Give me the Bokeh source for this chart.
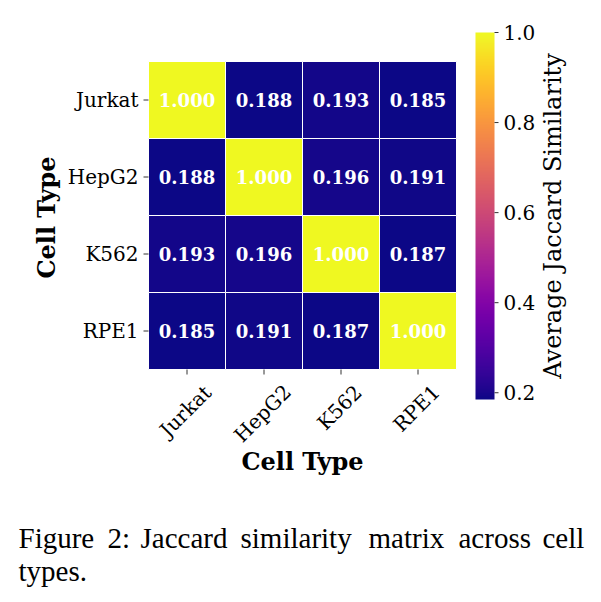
import numpy as np
from bokeh.plotting import figure
from bokeh.models import ColumnDataSource, LinearColorMapper, Range1d
from bokeh.palettes import Plasma256
from bokeh.transform import transform
from bokeh.embed import file_html
from bokeh.resources import INLINE
from bokeh.core.properties import value

# ---- data -------------------------------------------------------------
cell_types = ["Jurkat", "HepG2", "K562", "RPE1"]
jaccard = [
    [1.000, 0.188, 0.193, 0.185],
    [0.188, 1.000, 0.196, 0.191],
    [0.193, 0.196, 1.000, 0.187],
    [0.185, 0.191, 0.187, 1.000],
]
cbar_ticks = [0.2, 0.4, 0.6, 0.8, 1.0]
x_title = "Cell Type"
y_title = "Cell Type"
cbar_title = "Average Jaccard Similarity"
caption_line1 = ["Figure", "2:", "Jaccard", "similarity", "matrix", "across", "cell"]
caption_line2 = ["types."]

SERIF = "DejaVu Serif"
CAPTION_FONT = "Liberation Serif"
TICK_COLOR = "#333333"
W, H = 601, 602

# ---- geometry: one cell = CELL pixels, heatmap top-left at (LEFT, TOP) ------
n = len(cell_types)
CELL = 77.0
LEFT, TOP = 148.0, 61.0


def px(x):
    """canvas x pixel -> cell units"""
    return (x - LEFT) / CELL


def py(y):
    """canvas y pixel -> cell units (downwards)"""
    return (y - TOP) / CELL


vals = np.array(jaccard)
vmin, vmax = float(vals.min()), float(vals.max())
mapper = LinearColorMapper(palette=Plasma256, low=vmin, high=vmax)

# colour-bar value scale: vmax at y=32 px, vmin at y=399 px
CB_TOP, CB_BOT, CB_L, CB_R = 32.0, 399.0, 475.0, 494.0
k = (CB_BOT - CB_TOP) / (vmax - vmin)

p = figure(width=W, height=H,
           x_range=Range1d(px(0), px(W)),
           y_range=Range1d(py(H), py(0)),          # rows run downwards
           output_backend="svg", toolbar_location=None,
           x_axis_location=None, y_axis_location=None, min_border=0)
p.extra_y_ranges = {"cbar": Range1d(vmin - (H - CB_BOT) / k, vmax + CB_TOP / k)}
p.grid.visible = False
p.outline_line_color = None
p.background_fill_color = "white"
p.border_fill_color = "white"

# ---- heatmap cells ----------------------------------------------------------
rows, cols, v, lab = [], [], [], []
for i in range(n):
    for j in range(n):
        rows.append(i + 0.5)
        cols.append(j + 0.5)
        v.append(jaccard[i][j])
        lab.append(f"{jaccard[i][j]:.3f}")
src = ColumnDataSource(dict(row=rows, col=cols, val=v, label=lab))
p.rect(x="col", y="row", width=1, height=1, source=src,
       fill_color=transform("val", mapper), line_color="white", line_width=1)
p.text(x="col", y="row", text="label", source=src,
       text_align="center", text_baseline="middle", text_color="white",
       text_font=value(SERIF), text_font_style="bold", text_font_size="18px")

centers = [i + 0.5 for i in range(n)]

# ---- y axis: ticks, labels, title -------------------------------------------
p.segment(x0=px(LEFT - 5), x1=0, y0=centers, y1=centers,
          line_color=TICK_COLOR, line_width=1)
p.text(x=px(LEFT - 10), y=centers, text=cell_types,
       text_align="right", text_baseline="middle", text_color="black",
       text_font=value(SERIF), text_font_size="20px")
p.text(x=[px(46)], y=[py(217)], text=[y_title], angle=np.pi / 2,
       text_align="center", text_baseline="middle", text_color="black",
       text_font=value(SERIF), text_font_style="bold", text_font_size="24px")

# ---- x axis: ticks, rotated labels, title -----------------------------------
p.segment(x0=centers, x1=centers, y0=n, y1=py(TOP + n * CELL + 5),
          line_color=TICK_COLOR, line_width=1)

# rough DejaVu Serif advance widths (em) to centre each rotated label
char_w = {"J": .472, "u": .644, "r": .478, "k": .60, "a": .596, "t": .402,
          "H": .872, "e": .592, "p": .640, "G": .775, "K": .773, "R": .734,
          "P": .683, "E": .734}
fs = 20.0
label_top = TOP + n * CELL + 12
xl_y = []
for name in cell_types:
    w = sum(char_w.get(ch, .636) for ch in name) * fs
    extent = (w + 1.0 * fs) / np.sqrt(2)
    xl_y.append(py(label_top + extent / 2))
p.text(x=[c - 1.5 / CELL for c in centers], y=xl_y, text=cell_types, angle=np.pi / 4,
       text_align="center", text_baseline="middle", text_color="black",
       text_font=value(SERIF), text_font_size="20px")
p.text(x=[n / 2], y=[py(461)], text=[x_title],
       text_align="center", text_baseline="middle", text_color="black",
       text_font=value(SERIF), text_font_style="bold", text_font_size="24px")

# ---- colour bar -------------------------------------------------------------
grad = np.linspace(vmin, vmax, 256).reshape(-1, 1)
p.image(image=[grad], x=px(CB_L), y=vmin, dw=(CB_R - CB_L) / CELL, dh=vmax - vmin,
        color_mapper=mapper, y_range_name="cbar")
p.segment(x0=px(CB_R), x1=px(CB_R + 4), y0=cbar_ticks, y1=cbar_ticks,
          line_color=TICK_COLOR, line_width=1, y_range_name="cbar")
p.text(x=px(CB_R + 9), y=cbar_ticks, text=[f"{t:.1f}" for t in cbar_ticks],
       text_align="left", text_baseline="middle", text_color="black",
       text_font=value(SERIF), text_font_size="20px", y_range_name="cbar")
p.text(x=[px(552)], y=[(vmin + vmax) / 2], text=[cbar_title], angle=np.pi / 2,
       text_align="center", text_baseline="middle", text_color="black",
       text_font=value(SERIF), text_font_size="24px", y_range_name="cbar")

# ---- caption (justified first line) -----------------------------------------
word_x = [18, 107, 140, 240, 368, 458, 542]
p.text(x=[px(x) for x in word_x] + [px(18)],
       y=[py(537)] * len(caption_line1) + [py(570)],
       text=caption_line1 + caption_line2,
       text_align="left", text_baseline="middle", text_color="black",
       text_font=value(CAPTION_FONT), text_font_size="29px")

open("out.html", "w").write(file_html(p, INLINE))
